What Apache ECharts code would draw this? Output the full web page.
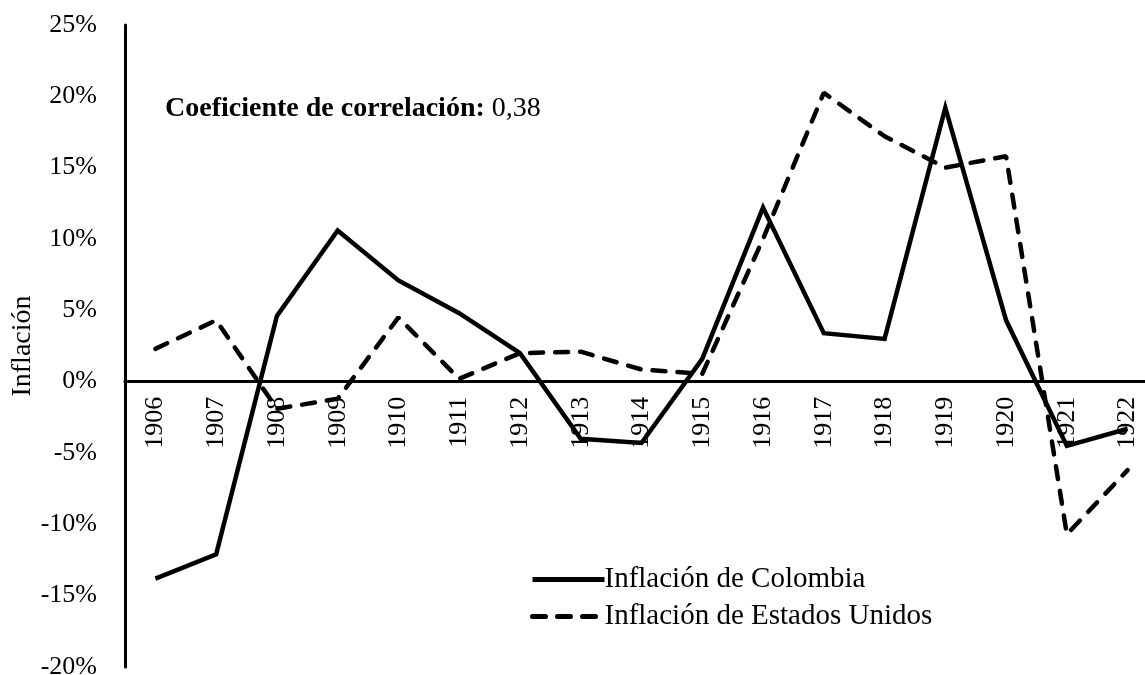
<!DOCTYPE html>
<html><head><meta charset="utf-8">
<script src="https://cdn.jsdelivr.net/npm/echarts@6/dist/echarts.min.js"></script>
<style>html,body{margin:0;padding:0;background:#fff}#c{width:1145px;height:675px}</style>
</head><body><div id="c"></div>
<script>
const years = ['1906','1907','1908','1909','1910','1911','1912','1913','1914','1915','1916','1917','1918','1919','1920','1921','1922'];
const colombia = [-13.8,-12.1,4.6,10.6,7.1,4.8,2.0,-4.0,-4.3,1.6,12.2,3.4,3.0,19.2,4.3,-4.5,-3.3];
const usa = [2.3,4.3,-1.9,-1.2,4.5,0.2,2.0,2.1,0.85,0.55,10.0,20.25,17.2,15.0,15.8,-10.7,-6.2];
const seriesNames = ['Inflación de Colombia','Inflación de Estados Unidos'];
const yAxisName = 'Inflación';
const correlationLabel = 'Coeficiente de correlación:';
const correlationValue = '0,38';
const yMin = -20, yMax = 25, yStep = 5;

const FONT = 'Liberation Serif';
const W = 1145, H = 675;
const gridTop = 25, gridBottom = 8;
const gridH = H - gridTop - gridBottom;
// move the category axis up to the zero line
const zeroOffset = -gridH * (0 - yMin) / (yMax - yMin);

const chart = echarts.init(document.getElementById('c'));
chart.setOption({
  animation: false,
  backgroundColor: '#fff',
  textStyle: {fontFamily: FONT, color: '#000'},
  grid: {left: 125, top: gridTop, bottom: gridBottom, right: -13, containLabel: false, outerBoundsMode: 'none'},
  xAxis: {
    type: 'category', data: years, boundaryGap: true,
    position: 'bottom', offset: zeroOffset,
    axisLine: {onZero: false, lineStyle: {color: '#000', width: 3}},
    axisTick: {show: false},
    axisLabel: {rotate: 90, color: '#000', fontFamily: FONT, fontSize: 26, margin: 15, interval: 0}
  },
  yAxis: {
    type: 'value', min: yMin, max: yMax, interval: yStep,
    name: yAxisName, nameLocation: 'middle', nameGap: 88, nameRotate: 90, nameMoveOverlap: false,
    nameTextStyle: {fontFamily: FONT, fontSize: 28, color: '#000'},
    axisLine: {show: true, lineStyle: {color: '#000', width: 3}},
    axisTick: {show: false},
    splitLine: {show: false},
    axisLabel: {formatter: '{value}%', color: '#000', fontFamily: FONT, fontSize: 26, margin: 28}
  },
  legend: {
    orient: 'vertical', left: 530, top: 565, padding: 0, itemWidth: 72, itemHeight: 14, itemGap: 8,
    itemStyle: {opacity: 0},
    lineStyle: {width: 5},
    textStyle: {fontFamily: FONT, fontSize: 29, color: '#000', padding: [0,0,0,-5]},
    data: seriesNames
  },
  graphic: [{
    type: 'text', left: 165, top: 95,
    style: {
      text: '{b|' + correlationLabel + '}{n| ' + correlationValue + '}',
      rich: {
        b: {fontFamily: FONT, fontSize: 28, fontWeight: 'bold', fill: '#000', color: '#000'},
        n: {fontFamily: FONT, fontSize: 28, fill: '#000', color: '#000'}
      }
    }
  }],
  series: [
    {name: seriesNames[0], type: 'line', data: colombia, symbol: 'none',
     lineStyle: {color: '#000', width: 4.5, type: 'solid', join: 'miter'}, itemStyle: {color: '#000'}},
    {name: seriesNames[1], type: 'line', data: usa, symbol: 'none',
     lineStyle: {color: '#000', width: 4.5, type: [13, 12], cap: 'round'}, itemStyle: {color: '#000'}}
  ]
});
</script></body></html>
